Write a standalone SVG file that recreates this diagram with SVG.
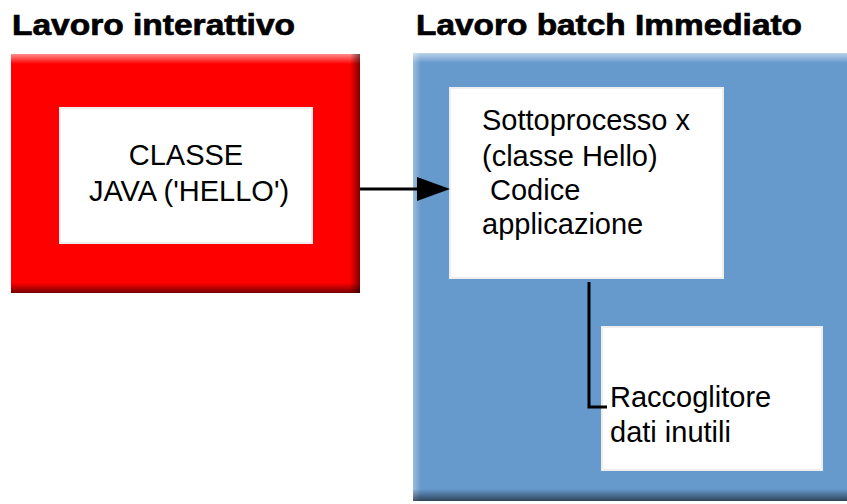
<svg xmlns="http://www.w3.org/2000/svg" width="847" height="504" viewBox="0 0 847 504">
<defs>
<style>
.title{font-family:"Liberation Sans",Arial,sans-serif;font-weight:bold;font-size:29px;fill:#000;stroke:#000;stroke-width:0.7}
.txt{font-family:"Liberation Sans",Arial,sans-serif;font-size:29px;fill:#000}
.inner{fill:#fff;stroke:#eeeeee;stroke-width:2}
.conn{stroke:#000;stroke-width:3;fill:none}
</style>
<linearGradient id="topHi" x1="0" y1="0" x2="0" y2="1">
<stop offset="0" stop-color="#fff" stop-opacity="0.55"/>
<stop offset="1" stop-color="#fff" stop-opacity="0"/>
</linearGradient>
<linearGradient id="rightDk" x1="0" y1="0" x2="1" y2="0">
<stop offset="0" stop-color="#000" stop-opacity="0"/>
<stop offset="1" stop-color="#000" stop-opacity="0.5"/>
</linearGradient>
<linearGradient id="botDk" x1="0" y1="0" x2="0" y2="1">
<stop offset="0" stop-color="#000" stop-opacity="0"/>
<stop offset="1" stop-color="#000" stop-opacity="0.55"/>
</linearGradient>
<linearGradient id="leftHi" x1="0" y1="0" x2="1" y2="0">
<stop offset="0" stop-color="#fff" stop-opacity="0.35"/>
<stop offset="1" stop-color="#fff" stop-opacity="0"/>
</linearGradient>
</defs>
<rect width="847" height="504" fill="#fff"/>

<text class="title" x="12" y="35" textLength="283" lengthAdjust="spacingAndGlyphs">Lavoro interattivo</text>
<text class="title" x="416" y="35" textLength="386" lengthAdjust="spacingAndGlyphs">Lavoro batch Immediato</text>

<g id="interactive-job">
<rect x="11" y="54" width="349" height="239" fill="#ff0000"/>
<rect x="11" y="54" width="349" height="10" fill="url(#topHi)"/>
<rect x="350" y="54" width="10" height="239" fill="url(#rightDk)"/>
<rect x="11" y="283" width="349" height="10" fill="url(#botDk)"/>
<rect class="inner" x="60" y="108" width="252" height="135"/>
<text class="txt" x="186" y="165" text-anchor="middle">CLASSE</text>
<text class="txt" x="189" y="201" text-anchor="middle">JAVA ('HELLO')</text>
</g>

<g id="batch-job">
<rect x="413" y="53" width="440" height="448" fill="#6699cc"/>
<rect x="413" y="53" width="440" height="10" fill="url(#topHi)"/>
<rect x="413" y="53" width="8" height="448" fill="url(#leftHi)"/>
<rect x="413" y="489" width="440" height="12" fill="url(#botDk)"/>
</g>

<g id="thread-x">
<rect class="inner" x="450" y="88" width="273" height="190"/>
<text class="txt" x="482" y="130">Sottoprocesso x</text>
<text class="txt" x="482" y="166">(classe Hello)</text>
<text class="txt" x="490" y="200">Codice</text>
<text class="txt" x="482" y="234">applicazione</text>
</g>

<g id="garbage-collector">
<rect class="inner" x="602" y="327" width="220" height="143"/>
<text class="txt" x="610" y="407">Raccoglitore</text>
<text class="txt" x="610" y="442">dati inutili</text>
</g>

<g id="connectors">
<line class="conn" x1="360" y1="189" x2="420" y2="189"/>
<polygon points="417,177 450,189 417,201" fill="#000"/>
<polyline class="conn" points="589,282 589,407 607,407"/>
</g>
</svg>
